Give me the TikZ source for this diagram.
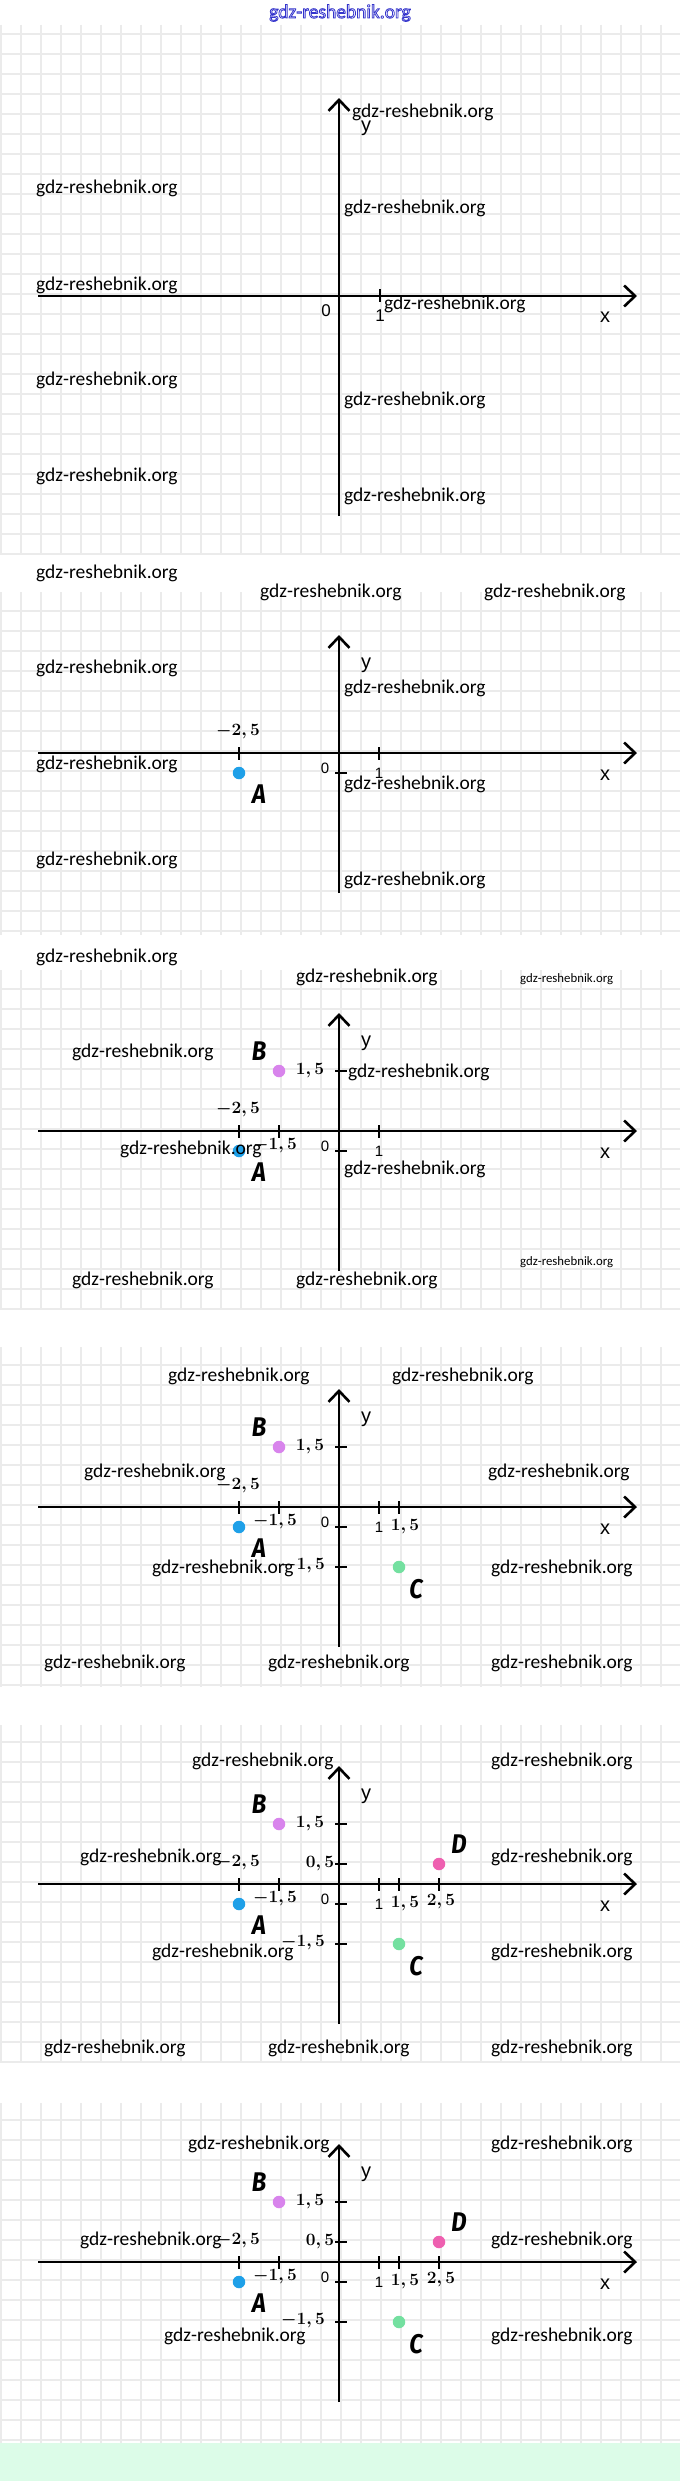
\documentclass[tikz,border=0pt]{standalone}
\usepackage[no-math]{fontspec}
\newfontfamily\wmfont{Carlito}
\newfontfamily\axfont{Liberation Sans}
\newfontfamily\ptfont{Fira Sans}
\usetikzlibrary{arrows.meta}
\definecolor{gridc}{HTML}{EBEBEB}
\definecolor{hdrblue}{HTML}{3434CC}
\definecolor{mint}{HTML}{DCFCE8}
\definecolor{ptA}{HTML}{1FA0E8}
\definecolor{ptB}{HTML}{D884EC}
\definecolor{ptC}{HTML}{74E0A0}
\definecolor{ptD}{HTML}{EE60B0}
\tikzset{
  gridline/.style={draw=gridc, line width=1.4pt},
  axisline/.style={draw=black, line width=2.8pt, -{Straight Barb[length=11pt,width=21pt,line width=2.6pt]}},
  tickline/.style={draw=black, line width=2.6pt},
  wm/.style={anchor=west, inner sep=0pt, font=\wmfont\fontsize{19.5}{20}\selectfont},
  wmsmall/.style={anchor=west, inner sep=0pt, font=\wmfont\fontsize{12.8}{13}\selectfont},
  numlab/.style={inner sep=0pt, font=\fontsize{18}{18}\selectfont\boldmath},
  axzero/.style={inner sep=0pt, font=\axfont\fontsize{15}{15}\selectfont},
  axzerobig/.style={inner sep=0pt, font=\axfont\fontsize{17}{17}\selectfont},
  axxy/.style={inner sep=0pt, font=\axfont\fontsize{20}{20}\selectfont},
  ptlab/.style={inner sep=0pt, font=\ptfont\bfseries\itshape\fontsize{27}{27}\selectfont},
  dot/.style={circle, inner sep=0pt, minimum size=12.5pt, draw=none}
}
\newcommand\papergrid[4]{% top, bottom, first, second
  \foreach \xx in {1,21,...,661} \draw[gridline] (\xx,#1) -- (\xx,#2);
  \foreach \yy in {#3,#4,...,#2} \draw[gridline] (0,\yy) -- (680,\yy);
}
\newcommand\ptletter[1]{\scalebox{0.88}[1]{#1}}
\newcommand\outlinetext[1]{\special{pdf:literal direct 1 Tr 0.8 w}#1\special{pdf:literal direct 0 Tr}}
\newcommand\panelaxes[3]{% Y0, prefix, level
\begin{scope}[shift={(339,#1)}]
  \coordinate (#2l) at (-301,0);
  \coordinate (#2r) at (298,0);
  \coordinate (#2t) at (0,-118);
  \coordinate (#2b) at (0,140);
  \draw[axisline] (#2l) -- (#2r);
  \draw[axisline] (#2b) -- (#2t);
  \draw[tickline] (-100,-6) -- (-100,7);
  \draw[tickline] (40,-6) -- (40,7);
  \draw[tickline] (-4,20) -- (8,20);
  \node[numlab] (#2m25) at (-101,-21) {$-2,5$};
  \node[axzero] (#2zero) at (-14,15) {0};
  \node[axzero] (#2one) at (40,20) {1};
  \node[axxy] (#2x) at (266,22) {x};
  \node[axxy] (#2y) at (27,-88) {y};
  \node[dot, fill=ptA] (#2A) at (-100,20) {};
  \node[ptlab] (#2Al) at (-80,41) {\ptletter{A}};
  \ifnum#3>2
    \draw[tickline] (-60,-6) -- (-60,7);
    \draw[tickline] (-4,-60) -- (8,-60);
    \node[numlab] (#2m15x) at (-64,15) {$-1,5$};
    \node[numlab] (#2p15y) at (-29,-60) {$1,5$};
    \node[dot, fill=ptB] (#2B) at (-60,-60) {};
    \node[ptlab] (#2Bl) at (-80,-80) {\ptletter{B}};
  \fi
  \ifnum#3>3
    \draw[tickline] (60,-6) -- (60,7);
    \draw[tickline] (-4,60) -- (8,60);
    \node[numlab] (#2p15x) at (66,20) {$1,5$};
    \node[numlab] (#2m15y) at (-36,59) {$-1,5$};
    \node[dot, fill=ptC] (#2C) at (60,60) {};
    \node[ptlab] (#2Cl) at (77,82) {\ptletter{C}};
  \fi
  \ifnum#3>4
    \draw[tickline] (100,-6) -- (100,7);
    \draw[tickline] (-4,-20) -- (8,-20);
    \node[numlab] (#2p25x) at (102,18) {$2,5$};
    \node[numlab] (#2p05y) at (-19,-20) {$0,5$};
    \node[dot, fill=ptD] (#2D) at (100,-20) {};
    \node[ptlab] (#2Dl) at (120,-40) {\ptletter{D}};
  \fi
\end{scope}}
\begin{document}
\begin{tikzpicture}[x=1pt, y=-1pt]
\useasboundingbox (0,0) rectangle (680,2481);
\fill[white] (0,0) rectangle (680,2481);
\fill[mint] (0,2443) rectangle (680,2481);
% grids
\papergrid{25}{555}{34}{54}
\papergrid{592}{935}{611}{631}
\papergrid{970}{1310}{989}{1009}
\papergrid{1347}{1687}{1365}{1385}
\papergrid{1725}{2063}{1742}{1762}
\papergrid{2103}{2443}{2120}{2140}
% header
\node[font=\wmfont\fontsize{19.5}{20}\selectfont, text=hdrblue, inner sep=0pt] (hdr) at (340,13) {\outlinetext{gdz-reshebnik.org}};
% panel 1
\coordinate (p1l) at (38,296);
\coordinate (p1r) at (637,296);
\coordinate (p1t) at (339,98);
\coordinate (p1b) at (339,516);
\draw[axisline] (p1l) -- (p1r);
\draw[axisline] (p1b) -- (p1t);
\draw[tickline] (380,289) -- (380,302);
\node[axxy] (p1y) at (366,128) {y};
\node[axxy] (p1x) at (605,317) {x};
\node[axzerobig] (p1zero) at (326,311) {0};
\node[axzerobig] (p1one) at (380,316) {1};
% panels 2-6
\panelaxes{753}{p2}{2}
\panelaxes{1131}{p3}{3}
\panelaxes{1507}{p4}{4}
\panelaxes{1884}{p5}{5}
\panelaxes{2262}{p6}{6}
% watermarks panel 1
\node[wm] (w01) at (352,112) {gdz-reshebnik.org};
\node[wm] (w02) at (36,188) {gdz-reshebnik.org};
\node[wm] (w03) at (344,208) {gdz-reshebnik.org};
\node[wm] (w04) at (36,285) {gdz-reshebnik.org};
\node[wm] (w05) at (384,304) {gdz-reshebnik.org};
\node[wm] (w06) at (36,380) {gdz-reshebnik.org};
\node[wm] (w07) at (344,400) {gdz-reshebnik.org};
\node[wm] (w08) at (36,476) {gdz-reshebnik.org};
\node[wm] (w09) at (344,496) {gdz-reshebnik.org};
\node[wm] (w10) at (36,573) {gdz-reshebnik.org};
% panel 2
\node[wm] (w11) at (260,592) {gdz-reshebnik.org};
\node[wm] (w12) at (484,592) {gdz-reshebnik.org};
\node[wm] (w13) at (36,668) {gdz-reshebnik.org};
\node[wm] (w14) at (344,688) {gdz-reshebnik.org};
\node[wm] (w15) at (36,764) {gdz-reshebnik.org};
\node[wm] (w16) at (344,784) {gdz-reshebnik.org};
\node[wm] (w17) at (36,860) {gdz-reshebnik.org};
\node[wm] (w18) at (344,880) {gdz-reshebnik.org};
\node[wm] (w19) at (36,957) {gdz-reshebnik.org};
% panel 3
\node[wm] (w20) at (296,977) {gdz-reshebnik.org};
\node[wmsmall] (w21) at (520,979) {gdz-reshebnik.org};
\node[wm] (w22) at (72,1052) {gdz-reshebnik.org};
\node[wm] (w23) at (348,1072) {gdz-reshebnik.org};
\node[wm] (w24) at (120,1149) {gdz-reshebnik.org};
\node[wm] (w25) at (344,1169) {gdz-reshebnik.org};
\node[wmsmall] (w26) at (520,1262) {gdz-reshebnik.org};
\node[wm] (w27) at (72,1280) {gdz-reshebnik.org};
\node[wm] (w28) at (296,1280) {gdz-reshebnik.org};
% panel 4
\node[wm] (w29) at (168,1376) {gdz-reshebnik.org};
\node[wm] (w30) at (392,1376) {gdz-reshebnik.org};
\node[wm] (w31) at (84,1472) {gdz-reshebnik.org};
\node[wm] (w32) at (488,1472) {gdz-reshebnik.org};
\node[wm] (w33) at (152,1568) {gdz-reshebnik.org};
\node[wm] (w34) at (491,1568) {gdz-reshebnik.org};
\node[wm] (w35) at (44,1663) {gdz-reshebnik.org};
\node[wm] (w36) at (268,1663) {gdz-reshebnik.org};
\node[wm] (w37) at (491,1663) {gdz-reshebnik.org};
% panel 5
\node[wm] (w38) at (192,1761) {gdz-reshebnik.org};
\node[wm] (w39) at (491,1761) {gdz-reshebnik.org};
\node[wm] (w40) at (80,1857) {gdz-reshebnik.org};
\node[wm] (w41) at (491,1857) {gdz-reshebnik.org};
\node[wm] (w42) at (152,1952) {gdz-reshebnik.org};
\node[wm] (w43) at (491,1952) {gdz-reshebnik.org};
\node[wm] (w44) at (44,2048) {gdz-reshebnik.org};
\node[wm] (w45) at (268,2048) {gdz-reshebnik.org};
\node[wm] (w46) at (491,2048) {gdz-reshebnik.org};
% panel 6
\node[wm] (w47) at (188,2144) {gdz-reshebnik.org};
\node[wm] (w48) at (491,2144) {gdz-reshebnik.org};
\node[wm] (w49) at (80,2240) {gdz-reshebnik.org};
\node[wm] (w50) at (491,2240) {gdz-reshebnik.org};
\node[wm] (w51) at (164,2336) {gdz-reshebnik.org};
\node[wm] (w52) at (491,2336) {gdz-reshebnik.org};
\end{tikzpicture}
\end{document}
